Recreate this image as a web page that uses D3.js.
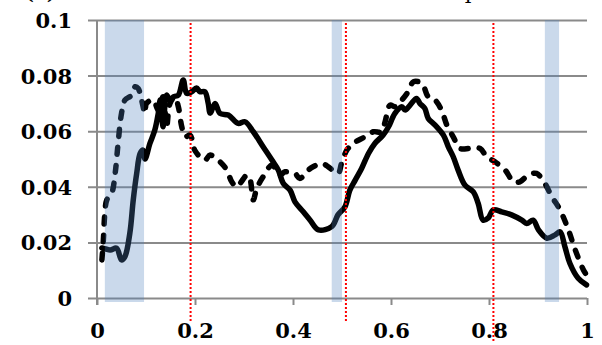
<!DOCTYPE html>
<html>
<head>
<meta charset="utf-8">
<script src="https://cdn.jsdelivr.net/npm/d3@7"></script>
<style>
  html, body { margin: 0; padding: 0; background: #fff; }
  svg { display: block; }
</style>
</head>
<body>
<svg id="chart" width="602" height="345"></svg>
<script>
// Solid curve: [position, value]
const solidSeries = [
  [0.010, 0.0180], [0.027, 0.0173], [0.040, 0.0179], [0.050, 0.0137], [0.057, 0.0149],
  [0.067, 0.0233], [0.074, 0.0353], [0.081, 0.0448], [0.088, 0.0520], [0.094, 0.0532],
  [0.098, 0.0500], [0.108, 0.0556], [0.118, 0.0604], [0.125, 0.0664], [0.129, 0.0712],
  [0.135, 0.0616], [0.142, 0.0730], [0.149, 0.0712], [0.156, 0.0724], [0.166, 0.0730],
  [0.176, 0.0784], [0.183, 0.0736], [0.193, 0.0742], [0.203, 0.0755], [0.210, 0.0742],
  [0.220, 0.0742], [0.227, 0.0700], [0.231, 0.0665], [0.241, 0.0700], [0.251, 0.0664],
  [0.268, 0.0658], [0.288, 0.0628], [0.302, 0.0634], [0.319, 0.0598], [0.339, 0.0544],
  [0.357, 0.0496], [0.370, 0.0460], [0.380, 0.0413], [0.394, 0.0388], [0.404, 0.0346],
  [0.421, 0.0310], [0.435, 0.0280], [0.452, 0.0245], [0.479, 0.0257], [0.492, 0.0300],
  [0.506, 0.0328], [0.516, 0.0388], [0.527, 0.0424], [0.540, 0.0466], [0.554, 0.0520],
  [0.567, 0.0556], [0.584, 0.0586], [0.595, 0.0616], [0.608, 0.0664], [0.622, 0.0688],
  [0.629, 0.0676], [0.639, 0.0694], [0.652, 0.0718], [0.659, 0.0700], [0.669, 0.0682],
  [0.676, 0.0646], [0.690, 0.0622], [0.707, 0.0586], [0.717, 0.0544], [0.727, 0.0508],
  [0.737, 0.0460], [0.751, 0.0406], [0.768, 0.0382], [0.778, 0.0340], [0.788, 0.0280],
  [0.798, 0.0287], [0.809, 0.0317], [0.826, 0.0310], [0.846, 0.0299], [0.867, 0.0280],
  [0.877, 0.0268], [0.890, 0.0280], [0.901, 0.0245], [0.918, 0.0215], [0.935, 0.0227],
  [0.945, 0.0238], [0.955, 0.0184], [0.965, 0.0125], [0.982, 0.0071], [0.999, 0.0047]
];

// Dashed curve: [position, value]
const dashedSeries = [
  [0.010, 0.0137], [0.013, 0.0209], [0.016, 0.0305], [0.020, 0.0353], [0.030, 0.0377],
  [0.037, 0.0448], [0.043, 0.0556], [0.050, 0.0664], [0.057, 0.0712], [0.071, 0.0730],
  [0.078, 0.0760], [0.084, 0.0754], [0.091, 0.0712], [0.098, 0.0664], [0.101, 0.0700],
  [0.115, 0.0712], [0.125, 0.0676], [0.135, 0.0724], [0.142, 0.0616], [0.149, 0.0700],
  [0.159, 0.0724], [0.166, 0.0688], [0.173, 0.0616], [0.180, 0.0580], [0.190, 0.0586],
  [0.200, 0.0530], [0.220, 0.0496], [0.231, 0.0514], [0.251, 0.0490], [0.265, 0.0460],
  [0.275, 0.0418], [0.285, 0.0400], [0.292, 0.0412], [0.306, 0.0442], [0.312, 0.0430],
  [0.319, 0.0353], [0.326, 0.0394], [0.339, 0.0436], [0.357, 0.0478], [0.373, 0.0442],
  [0.384, 0.0454], [0.404, 0.0448], [0.414, 0.0430], [0.431, 0.0460], [0.441, 0.0472],
  [0.459, 0.0484], [0.472, 0.0472], [0.492, 0.0448], [0.499, 0.0484], [0.510, 0.0532],
  [0.523, 0.0556], [0.547, 0.0580], [0.564, 0.0598], [0.581, 0.0598], [0.588, 0.0634],
  [0.598, 0.0694], [0.608, 0.0688], [0.622, 0.0712], [0.635, 0.0742], [0.646, 0.0778],
  [0.663, 0.0772], [0.676, 0.0724], [0.690, 0.0712], [0.703, 0.0676], [0.714, 0.0622],
  [0.727, 0.0580], [0.741, 0.0538], [0.761, 0.0538], [0.782, 0.0538], [0.795, 0.0508],
  [0.812, 0.0490], [0.833, 0.0460], [0.850, 0.0418], [0.863, 0.0418], [0.880, 0.0442],
  [0.897, 0.0448], [0.914, 0.0412], [0.928, 0.0365], [0.945, 0.0317], [0.962, 0.0245],
  [0.976, 0.0173], [0.993, 0.0100], [0.999, 0.0083]
];

// Shaded intervals [start, end]
const bands = [[0.016, 0.096], [0.479, 0.500], [0.914, 0.943]];

// Dotted markers
const markers = [0.191, 0.508, 0.809];

// Tick labels
const xTicks = [0, 0.2, 0.4, 0.6, 0.8, 1];
const xTickLabels = ["0", "0.2", "0.4", "0.6", "0.8", "1"];
const yTicks = [0, 0.02, 0.04, 0.06, 0.08, 0.1];
const yTickLabels = ["0", "0.02", "0.04", "0.06", "0.08", "0.1"];

const svg = d3.select("#chart");
const x = d3.scaleLinear().domain([0, 1]).range([97, 587]);
const y = d3.scaleLinear().domain([0, 0.1]).range([298, 20]);

const gridColor = "#8a8a8a";
const labelFont = "'DejaVu Serif', serif";

// Title (mostly above the visible area)
svg.append("text")
  .attr("x", 24).attr("y", -1)
  .attr("font-family", labelFont).attr("font-size", 21).attr("font-weight", "bold")
  .text("(c)");
svg.append("text")
  .attr("x", 418).attr("y", -1)
  .attr("font-family", labelFont).attr("font-size", 21)
  .text("Sample");

// Horizontal gridlines, extending left of the axis as tick marks
const yAxis = d3.axisLeft(y).tickValues(yTicks)
  .tickSize(-(x(1) - x(0))).tickFormat((d, i) => yTickLabels[i]).tickPadding(16);
const gy = svg.append("g").attr("transform", `translate(${x(0)},0)`).call(yAxis);
gy.select(".domain").remove();
gy.selectAll(".tick line")
  .attr("x1", -9).attr("x2", x(1) - x(0))
  .attr("stroke", gridColor).attr("stroke-width", 2);
gy.selectAll(".tick text")
  .attr("font-family", labelFont).attr("font-size", 21).attr("font-weight", "bold")
  .attr("fill", "#000").attr("x", 72 - x(0)).attr("dy", "0.36em");

// Vertical axis line
svg.append("line")
  .attr("x1", x(0)).attr("x2", x(0)).attr("y1", y(0.1)).attr("y2", y(0) + 7)
  .attr("stroke", gridColor).attr("stroke-width", 2);

// Bottom axis ticks and labels
const xAxis = d3.axisBottom(x).tickValues(xTicks)
  .tickSize(7).tickFormat((d, i) => xTickLabels[i]).tickPadding(0);
const gx = svg.append("g").attr("transform", `translate(0,${y(0)})`).call(xAxis);
gx.select(".domain").remove();
gx.selectAll(".tick line").attr("stroke", gridColor).attr("stroke-width", 2);
gx.selectAll(".tick text")
  .attr("font-family", labelFont).attr("font-size", 21).attr("font-weight", "bold")
  .attr("fill", "#000").attr("y", 40).attr("dy", 0);

// Curves
const line = d3.line()
  .x(d => x(d[0])).y(d => y(d[1]))
  .curve(d3.curveCatmullRom.alpha(0.5));

svg.append("path")
  .datum(dashedSeries)
  .attr("d", line)
  .attr("fill", "none").attr("stroke", "#000").attr("stroke-width", 5.5)
  .attr("stroke-linecap", "round").attr("stroke-linejoin", "round")
  .attr("stroke-dasharray", "7,11");

svg.append("path")
  .datum(solidSeries)
  .attr("d", line)
  .attr("fill", "none").attr("stroke", "#000").attr("stroke-width", 5.5)
  .attr("stroke-linecap", "round").attr("stroke-linejoin", "round");

// Shaded intervals laid over the curves
svg.append("g").selectAll("rect")
  .data(bands)
  .join("rect")
  .attr("x", d => x(d[0]))
  .attr("width", d => x(d[1]) - x(d[0]))
  .attr("y", y(0.1))
  .attr("height", y(0) + 4 - y(0.1))
  .attr("fill", "#4f81bd").attr("fill-opacity", 0.3);

// Dotted vertical markers
const markerDrop = [25, 25, 44];
svg.append("g").selectAll("line")
  .data(markers)
  .join("line")
  .attr("x1", d => x(d)).attr("x2", d => x(d))
  .attr("y1", y(0.1) + 3)
  .attr("y2", (d, i) => y(0) + markerDrop[i])
  .attr("stroke", "#ff0000").attr("stroke-width", 2)
  .attr("stroke-dasharray", "2,2");
</script>
</body>
</html>
